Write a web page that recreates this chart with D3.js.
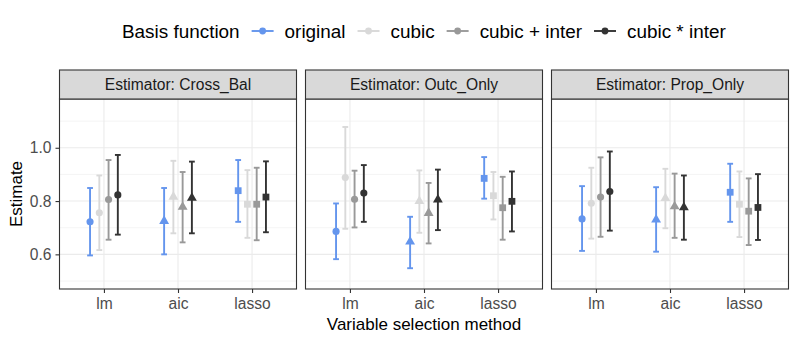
<!DOCTYPE html>
<html lang="en">
<head>
<meta charset="UTF-8">
<title>Estimates by basis function</title>
<script src="https://d3js.org/d3.v7.min.js"></script>
<style>
  body { margin: 0; background: #fff; }
  svg { display: block; font-family: "Liberation Sans", Arial, sans-serif; }
</style>
</head>
<body>
<svg width="797" height="342"></svg>
<script>
// data
var methods = ["lm", "aic", "lasso"];
var bases = ["original", "cubic", "cubic + inter", "cubic * inter"];
var estimators = ["Cross_Bal", "Outc_Only", "Prop_Only"];
var yTicks = [0.6, 0.8, 1.0];
var yMinor = [0.5, 0.7, 0.9, 1.1];

// rows = methods, columns = bases
var crossBalEst = [[0.722, 0.756, 0.806, 0.823], [0.725, 0.816, 0.778, 0.812], [0.839, 0.788, 0.788, 0.815]];
var crossBalLo  = [[0.596, 0.616, 0.655, 0.674], [0.600, 0.679, 0.645, 0.679], [0.722, 0.662, 0.653, 0.683]];
var crossBalHi  = [[0.849, 0.896, 0.954, 0.973], [0.849, 0.951, 0.909, 0.948], [0.954, 0.916, 0.925, 0.949]];

var outcOnlyEst = [[0.686, 0.888, 0.807, 0.830], [0.648, 0.800, 0.755, 0.805], [0.885, 0.820, 0.775, 0.799]];
var outcOnlyLo  = [[0.582, 0.696, 0.701, 0.722], [0.548, 0.681, 0.641, 0.691], [0.809, 0.731, 0.655, 0.686]];
var outcOnlyHi  = [[0.791, 1.078, 0.914, 0.935], [0.741, 0.915, 0.868, 0.918], [0.965, 0.909, 0.891, 0.911]];

var propOnlyEst = [[0.733, 0.792, 0.815, 0.836], [0.730, 0.811, 0.780, 0.776], [0.833, 0.788, 0.762, 0.776]];
var propOnlyLo  = [[0.613, 0.659, 0.666, 0.689], [0.610, 0.698, 0.662, 0.655], [0.722, 0.665, 0.635, 0.654]];
var propOnlyHi  = [[0.856, 0.925, 0.964, 0.986], [0.852, 0.921, 0.903, 0.896], [0.940, 0.911, 0.885, 0.901]];

var panelData = [
  { est: crossBalEst, lo: crossBalLo, hi: crossBalHi },
  { est: outcOnlyEst, lo: outcOnlyLo, hi: outcOnlyHi },
  { est: propOnlyEst, lo: propOnlyLo, hi: propOnlyHi }
];

var svg = d3.select("svg");

var color = d3.scaleOrdinal().domain(bases).range(["#6495ED", "#D9D9D9", "#999999", "#333333"]);
var shape = d3.scaleOrdinal().domain(methods).range([d3.symbolCircle, d3.symbolTriangle, d3.symbolSquare]);
var shapeSize = { lm: 40, aic: 42, lasso: 46 };

var panelLeft = [59.5, 305.5, 551.5];
var panelW = 237;
var stripTop = 70, stripH = 29;
var plotTop = stripTop + stripH, plotBottom = 289;

var y = d3.scaleLinear().domain([0.47, 1.183]).range([plotBottom, plotTop]);
var x = d3.scalePoint().domain(methods).range([0, panelW]).padding(0.6);
var step = x.step();
var dodge = d3.scaleBand().domain(bases).range([-0.25 * step, 0.25 * step]);
var capW = 5.8;

estimators.forEach(function(name, p) {
  var g = svg.append("g").attr("transform", "translate(" + panelLeft[p] + ",0)");
  var pd = panelData[p];

  // grid
  g.selectAll(".minor").data(yMinor).enter().append("line")
    .attr("x1", 0).attr("x2", panelW)
    .attr("y1", function(d) { return y(d); }).attr("y2", function(d) { return y(d); })
    .attr("stroke", "#EBEBEB").attr("stroke-width", 0.55);
  g.selectAll(".major").data(yTicks).enter().append("line")
    .attr("x1", 0).attr("x2", panelW)
    .attr("y1", function(d) { return y(d); }).attr("y2", function(d) { return y(d); })
    .attr("stroke", "#EBEBEB").attr("stroke-width", 1.1);
  g.selectAll(".vgrid").data(methods).enter().append("line")
    .attr("x1", function(d) { return x(d); }).attr("x2", function(d) { return x(d); })
    .attr("y1", plotTop).attr("y2", plotBottom)
    .attr("stroke", "#EBEBEB").attr("stroke-width", 1.1);

  // flatten rows
  var rows = [];
  methods.forEach(function(m, i) {
    bases.forEach(function(b, j) {
      rows.push({ method: m, basis: b, est: pd.est[i][j], lo: pd.lo[i][j], hi: pd.hi[i][j],
        cx: x(m) + dodge(b) + dodge.bandwidth() / 2 });
    });
  });

  var bars = g.selectAll(".bar").data(rows).enter().append("g")
    .attr("stroke", function(d) { return color(d.basis); })
    .attr("stroke-width", 1.9);
  bars.append("line")
    .attr("x1", function(d) { return d.cx; }).attr("x2", function(d) { return d.cx; })
    .attr("y1", function(d) { return y(d.lo); }).attr("y2", function(d) { return y(d.hi); });
  bars.append("line")
    .attr("x1", function(d) { return d.cx - capW / 2; }).attr("x2", function(d) { return d.cx + capW / 2; })
    .attr("y1", function(d) { return y(d.lo); }).attr("y2", function(d) { return y(d.lo); });
  bars.append("line")
    .attr("x1", function(d) { return d.cx - capW / 2; }).attr("x2", function(d) { return d.cx + capW / 2; })
    .attr("y1", function(d) { return y(d.hi); }).attr("y2", function(d) { return y(d.hi); });

  g.selectAll(".pt").data(rows).enter().append("path")
    .attr("d", function(d) { return d3.symbol().type(shape(d.method)).size(shapeSize[d.method])(); })
    .attr("transform", function(d) { return "translate(" + d.cx + "," + y(d.est) + ")"; })
    .attr("fill", function(d) { return color(d.basis); });

  // border
  g.append("rect").attr("x", 0).attr("y", plotTop).attr("width", panelW).attr("height", plotBottom - plotTop)
    .attr("fill", "none").attr("stroke", "#333333").attr("stroke-width", 1.1);

  // strip
  g.append("rect").attr("x", 0).attr("y", stripTop).attr("width", panelW).attr("height", stripH)
    .attr("fill", "#D9D9D9").attr("stroke", "#333333").attr("stroke-width", 1.1);
  g.append("text").attr("x", panelW / 2).attr("y", stripTop + stripH / 2).attr("dy", "0.36em")
    .attr("text-anchor", "middle").attr("font-size", 15.6).attr("fill", "#1A1A1A")
    .text("Estimator: " + name);

  // x axis
  var xa = g.append("g").attr("transform", "translate(0," + plotBottom + ")")
    .call(d3.axisBottom(x).tickSize(4).tickPadding(5));
  xa.select(".domain").remove();
  xa.selectAll(".tick line").attr("stroke", "#333333").attr("stroke-width", 1.1);
  xa.selectAll(".tick text").attr("fill", "#4D4D4D").attr("font-size", 15.6)
    .attr("font-family", "Liberation Sans, Arial, sans-serif");

  if (p === 0) {
    var ya = g.append("g").call(d3.axisLeft(y).tickValues(yTicks).tickFormat(d3.format(".1f")).tickSize(4).tickPadding(4));
    ya.select(".domain").remove();
    ya.selectAll(".tick line").attr("stroke", "#333333").attr("stroke-width", 1.1);
    ya.selectAll(".tick text").attr("fill", "#4D4D4D").attr("font-size", 15.6)
      .attr("font-family", "Liberation Sans, Arial, sans-serif");
  }
});

// axis titles
svg.append("text").attr("x", (panelLeft[0] + panelLeft[2] + panelW) / 2).attr("y", 330)
  .attr("text-anchor", "middle").attr("font-size", 17).attr("fill", "#000")
  .text("Variable selection method");
svg.append("text").attr("transform", "translate(22," + ((plotTop + plotBottom) / 2) + ") rotate(-90)")
  .attr("text-anchor", "middle").attr("font-size", 17).attr("fill", "#000")
  .text("Estimate");

// legend
var leg = svg.append("g");
var ly = 31;
var lx = 122;
var legFont = 18.9;
var title = leg.append("text").attr("x", lx).attr("y", ly).attr("dy", "0.36em")
  .attr("font-size", legFont).text("Basis function");
lx += title.node().getComputedTextLength() + 12;
bases.forEach(function(b) {
  var k = leg.append("g").attr("transform", "translate(" + lx + "," + ly + ")");
  k.append("line").attr("x1", 0).attr("x2", 22).attr("stroke", color(b)).attr("stroke-width", 1.9);
  k.append("circle").attr("cx", 11).attr("r", 3.4).attr("fill", color(b));
  lx += 22 + 11;
  var t = leg.append("text").attr("x", lx).attr("y", ly).attr("dy", "0.36em")
    .attr("font-size", legFont).text(b);
  lx += t.node().getComputedTextLength() + 12;
});
</script>
</body>
</html>
